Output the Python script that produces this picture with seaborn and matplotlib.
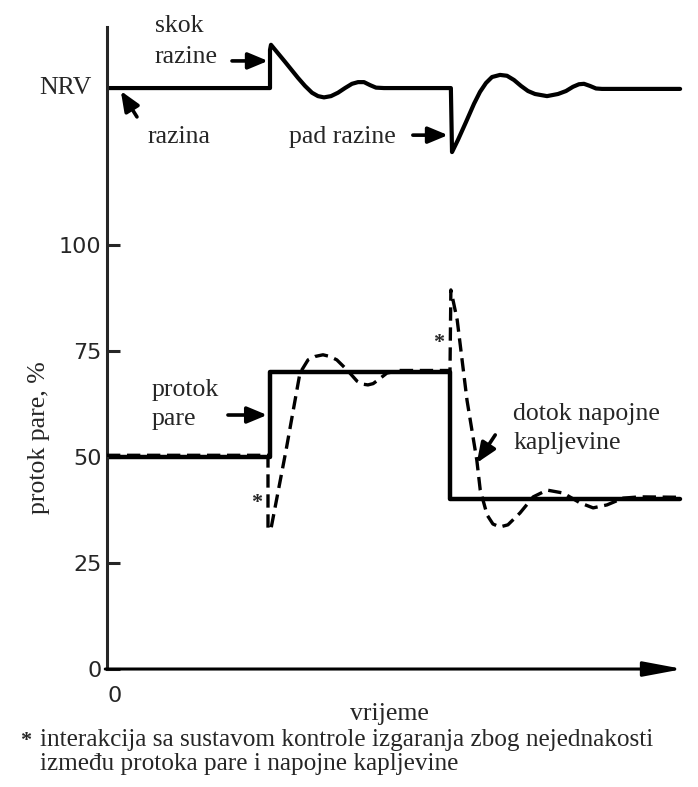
import matplotlib
matplotlib.use('Agg')
import matplotlib.pyplot as plt
import seaborn as sns

# drum level (drawn above the flow scale, NRV = normal level)
level_t = [0, 28.3, 28.3, 28.47, 30.9, 33.16, 34.38, 35.59, 36.63, 37.67, 38.89, 40.1, 41.32,
           42.53, 43.58, 44.62, 45.66, 46.7, 48.09,
           59.7, 59.9, 60.94, 62.33, 63.72, 64.76, 65.8, 66.84, 68.23, 69.44, 70.66, 71.88,
           73.09, 74.31, 76.39, 78.3, 79.69, 80.9, 81.94, 82.81, 83.85, 84.9, 85.94, 99.5]
level_v = [137.0, 137.0, 146.0, 147.2, 143.2, 139.4, 137.5, 135.9, 135.1, 134.8, 135.1, 135.9, 137.0,
           138.0, 138.4, 138.4, 137.7, 137.1, 137.0,
           137.0, 121.9, 124.8, 129.0, 133.3, 136.1, 138.2, 139.6, 140.1, 139.9, 138.9, 137.5,
           136.3, 135.6, 135.1, 135.6, 136.3, 137.3, 137.9, 138.0, 137.5, 136.9, 136.8, 136.8]

# steam flow, %
steam_t = [0, 28.3, 28.3, 59.6, 59.6, 99.5]
steam_v = [50, 50, 70, 70, 40, 40]

# feedwater flow, %
feed_t = [0, 27.95, 27.95, 28.5, 31.1, 33.5, 34.9, 36.1, 37.5, 38.7, 39.9, 41.7, 43.4, 44.3, 45.3,
          46.2, 47.1, 48.6, 50.9, 59.55, 59.7, 60.8, 62.5, 64.2, 64.8, 66.0, 67.0, 68.2, 69.6,
          71.7, 74.0, 76.4, 79.2, 82.1, 84.4, 86.8, 89.6, 92.5, 99.5]
feed_v = [50.4, 50.4, 32.8, 33.3, 51.7, 69.8, 72.9, 73.7, 74.1, 73.7, 72.9, 70.5, 67.9, 67.2, 67.0,
          67.3, 68.2, 69.8, 70.4, 70.4, 89.4, 82.3, 63.4, 49.3, 42.2, 36.3, 34.2, 33.5, 34.0,
          36.8, 40.6, 42.2, 41.5, 39.2, 38.0, 38.7, 40.3, 40.6, 40.5]

y_ticks = [0, 25, 50, 75, 100]

sns.set_style('ticks')
plt.rcParams['font.family'] = ['Liberation Serif', 'DejaVu Serif']

fig = plt.figure(figsize=(6.98, 7.87), dpi=100)
ax = fig.add_axes([0.1533, 0.1499, 0.8252, 0.8158])

sns.lineplot(x=level_t, y=level_v, sort=False, estimator=None, color='black',
             lw=3, ax=ax)
sns.lineplot(x=steam_t, y=steam_v, sort=False, estimator=None, color='black',
             lw=3.2, ax=ax)
sns.lineplot(x=feed_t, y=feed_v, sort=False, estimator=None, color='black',
             lw=2.4, linestyle=(0, (4, 2)), ax=ax, zorder=3)

ax.set_xlim(0, 100)
ax.set_ylim(0, 151.4)
sns.despine(ax=ax, top=True, right=True)
ax.spines['bottom'].set_visible(False)
ax.spines['left'].set_linewidth(2.2)

ax.set_yticks(y_ticks)
ax.set_yticklabels([str(v) for v in y_ticks], family='DejaVu Sans')
ax.tick_params(axis='y', direction='in', length=9.5, width=2.2, labelsize=16, pad=4)
ax.set_xticks([0])
ax.set_xticklabels(['0'], family='DejaVu Sans', ha='left')
ax.tick_params(axis='x', length=0, labelsize=16, pad=12)

# time axis with arrow
ax.annotate('', xy=(1.0, 0), xytext=(-0.003, 0), xycoords='axes fraction',
            arrowprops=dict(arrowstyle='-|>,head_length=0.8,head_width=0.15',
                            mutation_scale=30, lw=2.2, color='black',
                            shrinkA=0, shrinkB=0), annotation_clip=False)

ax.set_ylabel('protok pare, %', fontsize=18.5)
ax.yaxis.set_label_coords(-0.099, 0.36)
ax.text(49.1, -12.0, 'vrijeme', fontsize=18.5, ha='center', va='baseline')

fs = 18.5
ax.text(-2.6, 135.6, 'NRV', fontsize=fs, ha='right', va='baseline')
ax.text(8.33, 150.2, 'skok', fontsize=fs, va='baseline')
ax.text(8.33, 142.9, 'razine', fontsize=fs, va='baseline')
ax.text(7.1, 124.1, 'razina', fontsize=fs, va='baseline')
ax.text(31.6, 124.1, 'pad razine', fontsize=fs, va='baseline')
ax.text(7.8, 64.5, 'protok', fontsize=fs, va='baseline')
ax.text(7.8, 57.5, 'pare', fontsize=fs, va='baseline')
ax.text(70.5, 58.7, 'dotok napojne', fontsize=fs, va='baseline')
ax.text(70.5, 51.9, 'kapljevine', fontsize=fs, va='baseline')
ax.text(25.9, 39.2, '*', fontsize=16, fontweight='bold', ha='center', va='center')
ax.text(57.5, 76.9, '*', fontsize=16, fontweight='bold', ha='center', va='center')

arrow_kw = dict(arrowstyle='-|>,head_length=0.6,head_width=0.25', mutation_scale=20,
                lw=2.6, color='black', shrinkA=0, shrinkB=0)
ax.annotate('', xy=(27.95, 143.4), xytext=(21.7, 143.4), arrowprops=arrow_kw, annotation_clip=False)
ax.annotate('', xy=(2.4, 136.3), xytext=(5.2, 130.2), arrowprops=arrow_kw)
ax.annotate('', xy=(59.2, 125.9), xytext=(53.1, 125.9), arrowprops=arrow_kw)
ax.annotate('', xy=(27.8, 59.9), xytext=(21.0, 59.9), arrowprops=arrow_kw)
ax.annotate('', xy=(64.2, 48.6), xytext=(67.4, 55.2), arrowprops=arrow_kw)

# footnote
fig.text(0.0287, 0.052, '*', fontsize=16, fontweight='bold', va='baseline')
fig.text(0.0573, 0.052, 'interakcija sa sustavom kontrole izgaranja zbog nejednakosti',
         fontsize=18.2, va='baseline')
fig.text(0.0573, 0.0216, 'između protoka pare i napojne kapljevine',
         fontsize=18.2, va='baseline')

fig.savefig('out.png', dpi=100)
